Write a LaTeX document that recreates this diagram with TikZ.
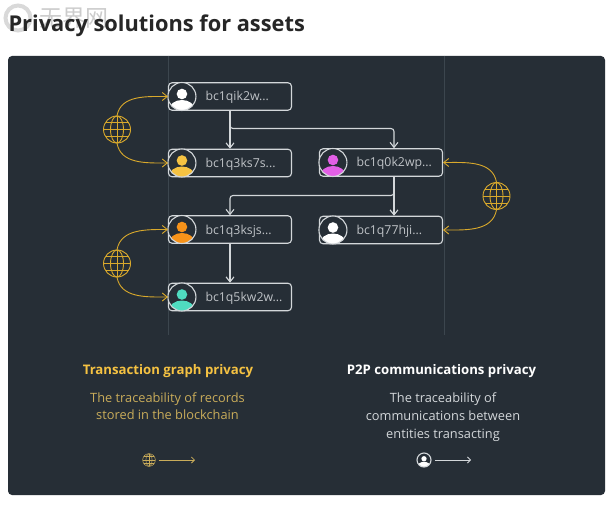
\documentclass[tikz,border=0pt]{standalone}
\usepackage{fontspec}
\setmainfont{Open Sans}
\newfontfamily\cjk{Noto Sans CJK SC}
\usetikzlibrary{arrows.meta,positioning}

\definecolor{panelbg}{HTML}{262E36}
\definecolor{goldline}{HTML}{D9A92C}
\definecolor{goldhead}{HTML}{F5C242}
\definecolor{goldtext}{HTML}{C9AC5A}
\definecolor{edgegrey}{HTML}{D3D7DA}
\definecolor{addrgrey}{HTML}{BFC3C7}
\definecolor{ruleline}{HTML}{3C464E}
\definecolor{pinkuser}{HTML}{E25FE6}
\definecolor{orangeuser}{HTML}{F7931A}
\definecolor{tealuser}{HTML}{4FDCC0}

\tikzset{
  addrbox/.style={draw=edgegrey, line width=1.1pt, rounded corners=3.5pt, minimum width=123pt, minimum height=27.5pt,
    inner sep=0pt, text=addrgrey, font=\fontsize{12.3}{15}\selectfont},
  flow/.style={draw=edgegrey, line width=1.1pt, rounded corners=3pt, -{Straight Barb[length=5pt,width=8pt]}},
  link/.style={draw=goldline, line width=.9pt, -{Straight Barb[length=5pt,width=8pt]}},
  globenode/.style={circle, minimum size=27pt, inner sep=0pt},
  avatar/.pic={
    \fill[panelbg] (0,0) circle (14);
    \begin{scope}
      \clip (0,0) circle (14);
      \fill[#1] (0,-13.5) ellipse (13 and 10);
    \end{scope}
    \fill[#1] (0,2.5) circle (5.3);
    \draw[edgegrey, line width=1.1pt] (0,0) circle (14);
  },
  globe/.pic={
    \draw[#1] (0,0) circle (13.5);
    \draw[#1] (0,0) ellipse (6.5 and 13.5);
    \draw[#1] (0,-13.5) -- (0,13.5) (-13.5,0) -- (13.5,0);
    \draw[#1] (-11.5,7) -- (11.5,7) (-11.5,-7) -- (11.5,-7);
  }
}

\begin{document}
\begin{tikzpicture}[x=1pt, y=1pt, >=Stealth]
    \useasboundingbox[fill=white] (0,0) rectangle (615,-505);

    \draw[gray!30, line width=4pt] (18,-18) circle (12.5);
    \node[text=gray!40, font=\cjk\fontsize{23}{25}\selectfont, anchor=west] (mark) at (36,-18.5) {无界网};
    \node[anchor=west, text=black!85, font=\fontsize{21.8}{26}\selectfont\bfseries] (title) at (5,-26) {Privacy solutions for assets};

    \fill[panelbg, rounded corners=4pt] (8,-56) rectangle (605,-495);
    \draw[ruleline, line width=.8pt] (168,-56) -- (168,-335);
    \draw[ruleline, line width=.8pt] (444,-56) -- (444,-335);

    % address boxes with their avatars
    \foreach \n/\x/\y/\c/\l in {qik/230/96.5/white/bc1qik2w, ksa/230/163/goldhead/bc1q3ks7s, okw/381/162.5/pinkuser/bc1q0k2wp, hji/381/230/white/bc1q77hji, ksj/230/229.5/orangeuser/bc1q3ksjs, kwt/230/297/tealuser/bc1q5kw2w} {
      \node[addrbox] (\n) at (\x,-\y) {\makebox[123pt][l]{\hspace*{37pt}\raisebox{-4.5pt}[0pt][0pt]{\l...}}};
      \path (\n.west) ++(14,0) pic {avatar=\c};
    }

    % transactions between the addresses
    \draw[flow] (qik) -- (ksa);
    \draw[flow] (qik.south) |- (260,-128.5) -| ([xshift=13pt]okw.north);
    \draw[flow] ([xshift=13pt]okw.south) -- ([xshift=13pt]hji.north);
    \draw[flow] ([xshift=13pt]okw.south) |- (300,-195.5) -| (ksj.north);
    \draw[flow] (ksj) -- (kwt);

    % network links
    \foreach \n/\x/\y in {glA/117/129.5, glB/496.5/196, glC/117/263.5} {
      \node[globenode] (\n) at (\x,-\y) {};
      \path (\n) pic {globe={goldline, line width=.9pt}};
    }
    \draw[link] (glA.north) to[out=80, in=180] (qik.west);
    \draw[link] (glA.south) to[out=-80, in=180] (ksa.west);
    \draw[link] (glC.north) to[out=80, in=180] (ksj.west);
    \draw[link] (glC.south) to[out=-80, in=180] (kwt.west);
    \draw[link] (glB.north) to[out=100, in=0] (okw.east);
    \draw[link] (glB.south) to[out=-100, in=0] (hji.east);

    % captions
    \node[text=goldhead, font=\fontsize{13.2}{16}\selectfont\bfseries] (headL) at (168,-371) {Transaction graph privacy};
    \node[text=goldtext, align=center, font=\fontsize{12.8}{17.5}\selectfont] (textL) at (167.5,-406) {The traceability of records\\stored in the blockchain};
    \node[text=white, font=\fontsize{13.2}{16}\selectfont\bfseries] (headR) at (441.5,-371) {P2P communications privacy};
    \node[text=edgegrey, align=center, font=\fontsize{12.8}{18}\selectfont] (textR) at (443,-417) {The traceability of\\communications between\\entities transacting};

    % small keys under the captions
    \node[circle, minimum size=13pt, inner sep=0pt] (keyL) at (149,-460) {};
    \path (keyL) pic[scale=.47] {globe={goldtext, line width=.5pt}};
    \coordinate (keyLend) at (195,-460);
    \draw[goldtext, line width=.8pt, -{Straight Barb[length=3pt,width=6pt]}] (keyL.east) ++(3,0) -- (keyLend);

    \node[circle, minimum size=14pt, inner sep=0pt] (keyR) at (424,-460) {};
    \path (keyR) pic[scale=.5] {avatar=white};
    \coordinate (keyRend) at (471,-460);
    \draw[edgegrey, line width=.8pt, -{Straight Barb[length=3pt,width=6pt]}] (keyR.east) ++(4,0) -- (keyRend);
\end{tikzpicture}
\end{document}
